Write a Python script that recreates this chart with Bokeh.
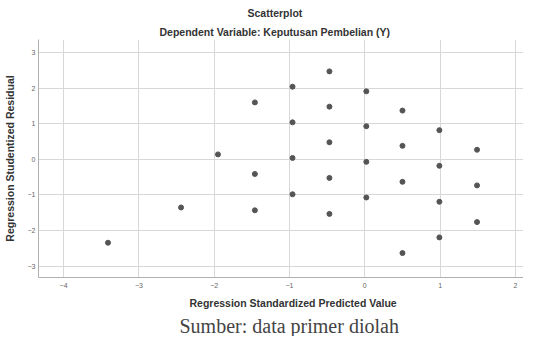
from bokeh.plotting import figure
from bokeh.models import Range1d, Title, FixedTicker
from bokeh.embed import file_html
from bokeh.resources import INLINE

# Data (standardized predicted value, studentized residual)
pred = [-1.46, -1.95, -0.47, -0.96, 0.02, -0.47, 0.50, -0.96, 0.02, 0.99,
        -0.47, 0.50, 1.49, -0.96, 0.02, 0.99, -1.46, -2.44, -1.46, -3.41,
        -0.47, 0.50, 1.49, -0.96, 0.02, 0.99, -0.47, 1.49, 0.99, 0.50]
resid = [1.60, 0.14, 2.47, 2.04, 1.91, 1.48, 1.37, 1.04, 0.93, 0.82,
         0.48, 0.38, 0.27, 0.04, -0.07, -0.18, -0.41, -1.35, -1.43, -2.34,
         -0.52, -0.63, -0.73, -0.98, -1.07, -1.19, -1.53, -1.76, -2.19, -2.63]
x_ticks = [-4, -3, -2, -1, 0, 1, 2]
y_ticks = [-3, -2, -1, 0, 1, 2, 3]
title = "Scatterplot"
subtitle = "Dependent Variable: Keputusan Pembelian (Y)"
x_label = "Regression Standardized Predicted Value"
y_label = "Regression Studentized Residual"
caption = "Sumber: data primer diolah"

p = figure(width=523, height=336,
           x_range=Range1d(-4.333, 2.107), y_range=Range1d(-3.316, 3.365),
           min_border_left=34, min_border_right=0, min_border_top=0, min_border_bottom=0,
           output_backend="svg", toolbar_location=None)
p.outline_line_color = None
p.background_fill_color = "white"
p.border_fill_color = "white"

p.xaxis.ticker = FixedTicker(ticks=x_ticks)
p.yaxis.ticker = FixedTicker(ticks=y_ticks)
p.xgrid.ticker = FixedTicker(ticks=x_ticks)
p.ygrid.ticker = FixedTicker(ticks=y_ticks)
p.grid.grid_line_color = "#d8d8d8"
p.grid.grid_line_width = 1

for ax in (p.xaxis, p.yaxis):
    ax.axis_line_color = "#b0b0b0"
    ax.major_tick_line_color = None
    ax.major_tick_out = 0
    ax.major_tick_in = 0
    ax.minor_tick_line_color = None
    ax.major_label_text_font = "Liberation Sans"
    ax.major_label_text_font_size = "7px"
    ax.major_label_text_color = "#666666"

p.yaxis.axis_label = y_label
p.yaxis.axis_label_text_font = "Liberation Sans"
p.yaxis.axis_label_text_font_size = "10.5px"
p.yaxis.axis_label_text_font_style = "bold"
p.yaxis.axis_label_text_color = "#333333"
p.xaxis.major_label_standoff = 5
p.yaxis.major_label_standoff = 3
p.yaxis.axis_label_standoff = 9

p.scatter(pred, resid, size=5, color="#555555")

def bold_title(text, standoff, offset):
    return Title(text=text, align="left", offset=offset, text_font="Liberation Sans",
                 text_font_size="10.5px", text_font_style="bold",
                 text_line_height=1.0, text_color="#333333", standoff=standoff)

# titles above: first added sits next to the frame
p.add_layout(bold_title(subtitle, 3, 121), "above")
p.add_layout(bold_title(title, 8, 209), "above")
# below: x axis title, then source caption
p.add_layout(bold_title(x_label, 8, 151), "below")
p.add_layout(Title(text=caption, align="left", offset=141, text_font="Liberation Serif",
                   text_font_size="20px", text_font_style="normal", text_line_height=0.9,
                   text_color="#444444", standoff=0), "below")

open("out.html", "w").write(file_html(p, INLINE))
